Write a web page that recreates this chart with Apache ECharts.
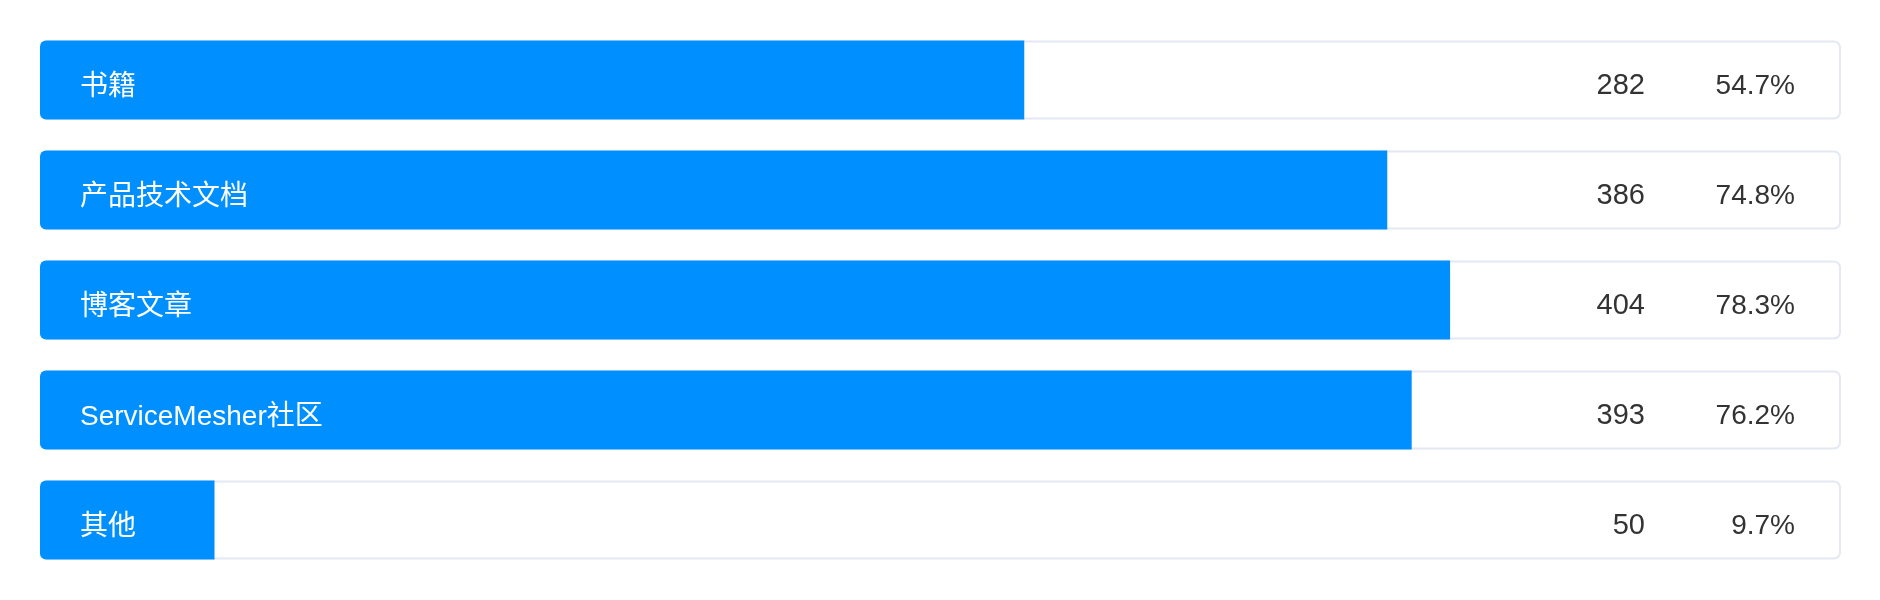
<!DOCTYPE html>
<html>
<head>
<meta charset="utf-8">
<script src="https://cdn.jsdelivr.net/npm/echarts@6/dist/echarts.min.js"></script>
<style>
html,body{margin:0;padding:0;background:#fff;}
#chart{width:1880px;height:600px;}
</style>
</head>
<body>
<div id="chart"></div>
<script>
const categories = ['书籍', '产品技术文档', '博客文章', 'ServiceMesher社区', '其他'];
const values = [282, 386, 404, 393, 50];
const percents = ['54.7%', '74.8%', '78.3%', '76.2%', '9.7%'];
const total = 516;
const totals = [total, total, total, total, total];

const FONT = '"Liberation Sans", Arial, "Noto Sans CJK SC", sans-serif';

const chart = echarts.init(document.getElementById('chart'));
chart.setOption({
  animation: false,
  grid: { left: 40, right: 39, top: 25, bottom: 25, containLabel: false },
  xAxis: { type: 'value', min: 0, max: total, show: false },
  yAxis: {
    type: 'category', data: categories, inverse: true, show: false
  },
  series: [
    {
      type: 'bar',
      data: totals,
      barWidth: 79,
      barGap: '-100%',
      silent: true,
      z: 1,
      itemStyle: { color: '#ffffff', borderColor: '#e3e8f3', borderWidth: 2, borderRadius: 6 },
      label: {
        show: true,
        position: 'insideRight',
        distance: 46,
        offset: [0, 6],
        formatter: function (p) {
          return '{a|' + values[p.dataIndex] + '}{b|' + percents[p.dataIndex] + '}';
        },
        rich: {
          a: { fontSize: 29, color: '#333333', fontFamily: FONT, align: 'right' },
          b: { fontSize: 28, color: '#333333', fontFamily: FONT, width: 150, align: 'right' }
        }
      }
    },
    {
      type: 'bar',
      data: values,
      barWidth: 79,
      z: 2,
      itemStyle: { color: '#008ffe', borderRadius: [6, 0, 0, 6] },
      label: {
        show: true,
        position: 'insideLeft',
        distance: 40,
        offset: [0, 7],
        formatter: function (p) { return categories[p.dataIndex]; },
        color: '#ffffff',
        fontSize: 28,
        fontFamily: FONT
      }
    }
  ]
});
</script>
</body>
</html>
